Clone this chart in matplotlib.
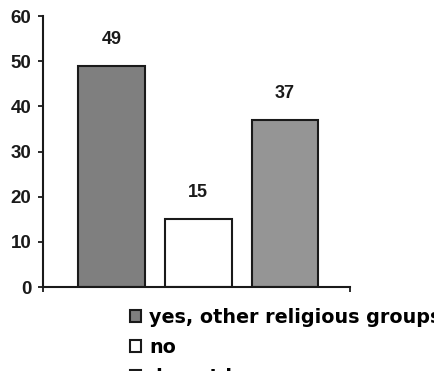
import numpy as np
import matplotlib.pyplot as plt
from matplotlib.patches import Patch

categories = ["yes, other religious groups", "no", "do not know"]
values = [49, 15, 37]
bar_colors = ["#7f7f7f", "#ffffff", "#959595"]
yticks = [0, 10, 20, 30, 40, 50, 60]

num_font = "Liberation Sans"
txt_font = "DejaVu Sans"
ink = "#1a1a1a"

fig = plt.figure(figsize=(4.34, 3.71), dpi=100)
ax = fig.add_axes([43 / 434, 1 - 287 / 371, (350 - 43) / 434, (287 - 16) / 371])

x = np.arange(len(values))
bars = ax.bar(x, values, width=0.77, color=bar_colors,
              edgecolor=ink, linewidth=1.5, zorder=2)

for xi, v in zip(x, values):
    ax.annotate(f"{v}", (xi, v), xytext=(0, 19), textcoords="offset points",
                ha="center", va="center", fontsize=13, fontweight="bold",
                family=num_font, color=ink)

ax.set_xlim(-0.79, 2.75)
ax.set_ylim(0, 60)
ax.set_yticks(yticks)
ax.set_yticklabels([str(t) for t in yticks], fontsize=13.5, fontweight="bold",
                   family=num_font, color=ink)
ax.set_xticks([-0.79, 2.75])
ax.set_xticklabels(["", ""])
ax.tick_params(axis="both", direction="out", length=3.5, width=1.3,
               color=ink, pad=5)

for side in ["top", "right"]:
    ax.spines[side].set_visible(False)
for side in ["left", "bottom"]:
    ax.spines[side].set_linewidth(1.5)
    ax.spines[side].set_color(ink)
ax.spines["bottom"].set_zorder(3)

# legend sits under the plot; the last row runs past the bottom edge
handles = [Patch(facecolor=c, edgecolor=ink, linewidth=1.5) for c in bar_colors]
fig.legend(handles, categories, loc="upper left",
           bbox_to_anchor=(130 / 434, 1 - 308 / 371),
           frameon=False, borderaxespad=0, borderpad=0,
           handlelength=0.58, handleheight=0.58, handletextpad=0.42,
           labelspacing=0.57,
           prop={"family": txt_font, "weight": "bold", "size": 13.8})

fig.savefig("out.png", dpi=100)
